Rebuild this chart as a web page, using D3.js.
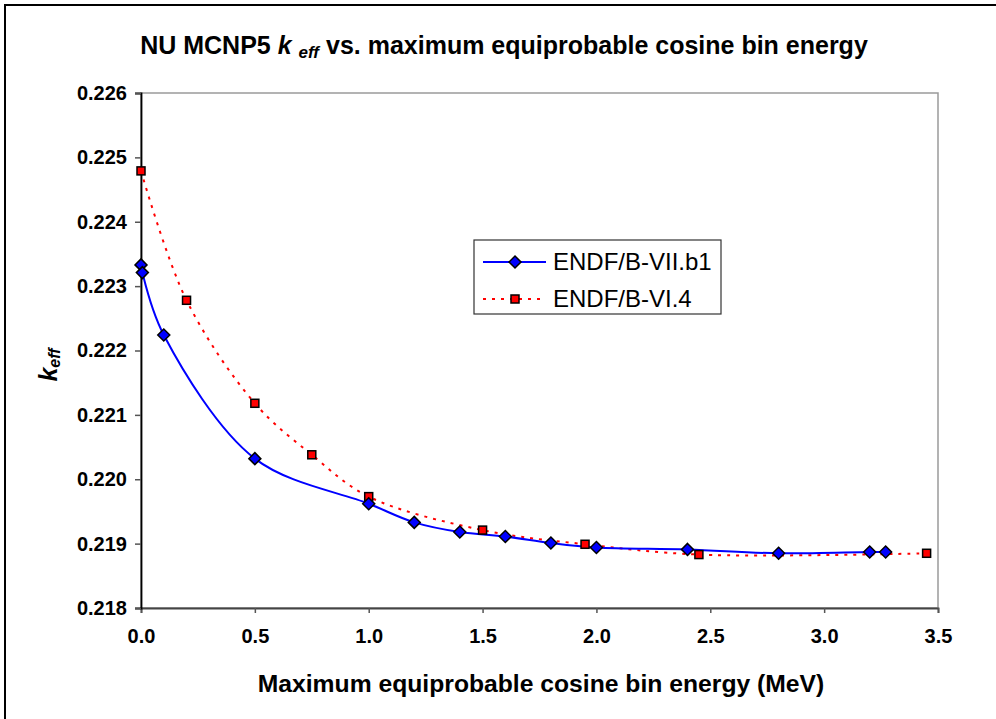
<!DOCTYPE html>
<html><head><meta charset="utf-8">
<script src="https://cdn.jsdelivr.net/npm/d3@7"></script>
<style>body{margin:0;background:#fff}svg{display:block;font-family:"Liberation Sans",Arial,sans-serif}</style>
</head><body><svg id="c" width="996" height="719"></svg>
<script>
// Data
const seriesNames = ["ENDF/B-VII.b1", "ENDF/B-VI.4"];
const blueX = [0, 0.006, 0.1, 0.5, 1.0, 1.2, 1.4, 1.6, 1.8, 2.0, 2.4, 2.8, 3.2, 3.27];
const blueY = [0.22333, 0.22321, 0.22224, 0.22032, 0.21962, 0.21933, 0.21918, 0.21911, 0.21901, 0.21894, 0.21891, 0.21885, 0.21887, 0.21887];
const redX = [0, 0.2, 0.5, 0.75, 1.0, 1.5, 1.95, 2.45, 3.45];
const redY = [0.22479, 0.22278, 0.22118, 0.22038, 0.21973, 0.21921, 0.21899, 0.21883, 0.21885];
const xTicks = [0, 0.5, 1.0, 1.5, 2.0, 2.5, 3.0, 3.5];
const yTicks = [0.218, 0.219, 0.220, 0.221, 0.222, 0.223, 0.224, 0.225, 0.226];

const svg = d3.select("#c");
const L = 141, R = 938, T = 93, B = 608;
const x = d3.scaleLinear().domain([0, 3.5]).range([L, R]);
const y = d3.scaleLinear().domain([0.218, 0.226]).range([B, T]);

// outer frame
svg.append("path").attr("d", "M5,719 L5,5 L996,5").attr("fill", "none").attr("stroke", "#000").attr("stroke-width", 2);

// plot area border
svg.append("rect").attr("x", L).attr("y", T).attr("width", R - L).attr("height", B - T)
  .attr("fill", "none").attr("stroke", "#9a9a9a").attr("stroke-width", 1.5);

// axes
const xAxis = svg.append("g").attr("transform", `translate(0,${B})`)
  .call(d3.axisBottom(x).tickValues(xTicks).tickFormat(d3.format(".1f")).tickSize(5).tickPadding(16));
const yAxis = svg.append("g").attr("transform", `translate(${L},0)`)
  .call(d3.axisLeft(y).tickValues(yTicks).tickFormat(d3.format(".3f")).tickSize(6).tickPadding(8));
[xAxis, yAxis].forEach(g => {
  g.select(".domain").attr("stroke", "#000").attr("stroke-width", 1.8);
  g.selectAll(".tick line").attr("stroke", "#555").attr("stroke-width", 1.5);
  g.selectAll(".tick text").attr("fill", "#000").style("font-size", "20px").style("font-weight", "bold")
    .style("font-family", '"Liberation Sans",Arial,sans-serif');
});
xAxis.select(".domain").attr("stroke", "#444");

// lines
const bluePts = blueX.map((d, i) => [d, blueY[i]]);
const redPts = redX.map((d, i) => [d, redY[i]]);
const line = d3.line().x(d => x(d[0])).y(d => y(d[1])).curve(d3.curveCatmullRom.alpha(0.5));
svg.append("path").attr("d", line(redPts)).attr("fill", "none").attr("stroke", "#ff0000")
  .attr("stroke-width", 2).attr("stroke-dasharray", "3,6");
svg.append("path").attr("d", line(bluePts)).attr("fill", "none").attr("stroke", "#0000ff").attr("stroke-width", 2);

const diamond = "M0,-6L6,0L0,6L-6,0Z";
function drawDiamond(g, cx, cy) {
  g.append("path").attr("d", diamond).attr("transform", `translate(${cx},${cy})`)
    .attr("fill", "#0000ff").attr("stroke", "#000").attr("stroke-width", 1.5);
}
function drawSquare(g, cx, cy) {
  g.append("rect").attr("x", cx - 4).attr("y", cy - 4).attr("width", 8).attr("height", 8)
    .attr("fill", "#ff0000").attr("stroke", "#000").attr("stroke-width", 1.5);
}
const mk = svg.append("g");
redPts.forEach(d => drawSquare(mk, x(d[0]), y(d[1])));
bluePts.forEach(d => drawDiamond(mk, x(d[0]), y(d[1])));

// title
const title = svg.append("text").attr("x", 504).attr("y", 54).attr("text-anchor", "middle")
  .style("font-size", "25px").style("font-weight", "bold");
title.append("tspan").text("NU MCNP5 ");
title.append("tspan").style("font-style", "italic").text("k");
title.append("tspan").text(" ");
title.append("tspan").style("font-style", "italic").style("font-size", "17px").attr("dy", 4).text("eff");
title.append("tspan").attr("dy", -4).text(" vs. maximum equiprobable cosine bin energy");

// x axis title
svg.append("text").attr("x", 541).attr("y", 692).attr("text-anchor", "middle")
  .style("font-size", "24.7px").style("font-weight", "bold")
  .text("Maximum equiprobable cosine bin energy (MeV)");

// y axis title
const yt = svg.append("text").attr("transform", "translate(57,365) rotate(-90)").attr("text-anchor", "middle")
  .style("font-size", "25px").style("font-weight", "bold").style("font-style", "italic");
yt.append("tspan").text("k");
yt.append("tspan").style("font-size", "16px").attr("dy", 3).text("eff");

// legend
const lg = svg.append("g");
lg.append("rect").attr("x", 474).attr("y", 240).attr("width", 247).attr("height", 74)
  .attr("fill", "#fff").attr("stroke", "#333").attr("stroke-width", 1.2);
lg.append("line").attr("x1", 483).attr("x2", 546).attr("y1", 262).attr("y2", 262)
  .attr("stroke", "#0000ff").attr("stroke-width", 2);
drawDiamond(lg, 515, 262);
lg.append("line").attr("x1", 483).attr("x2", 546).attr("y1", 299).attr("y2", 299)
  .attr("stroke", "#ff0000").attr("stroke-width", 2).attr("stroke-dasharray", "3,6");
drawSquare(lg, 515, 299);
lg.selectAll("text.leg").data(seriesNames).join("text").attr("class", "leg")
  .attr("x", 553).attr("y", (d, i) => 270 + i * 37)
  .style("font-size", "24px").text(d => d);
</script></body></html>
